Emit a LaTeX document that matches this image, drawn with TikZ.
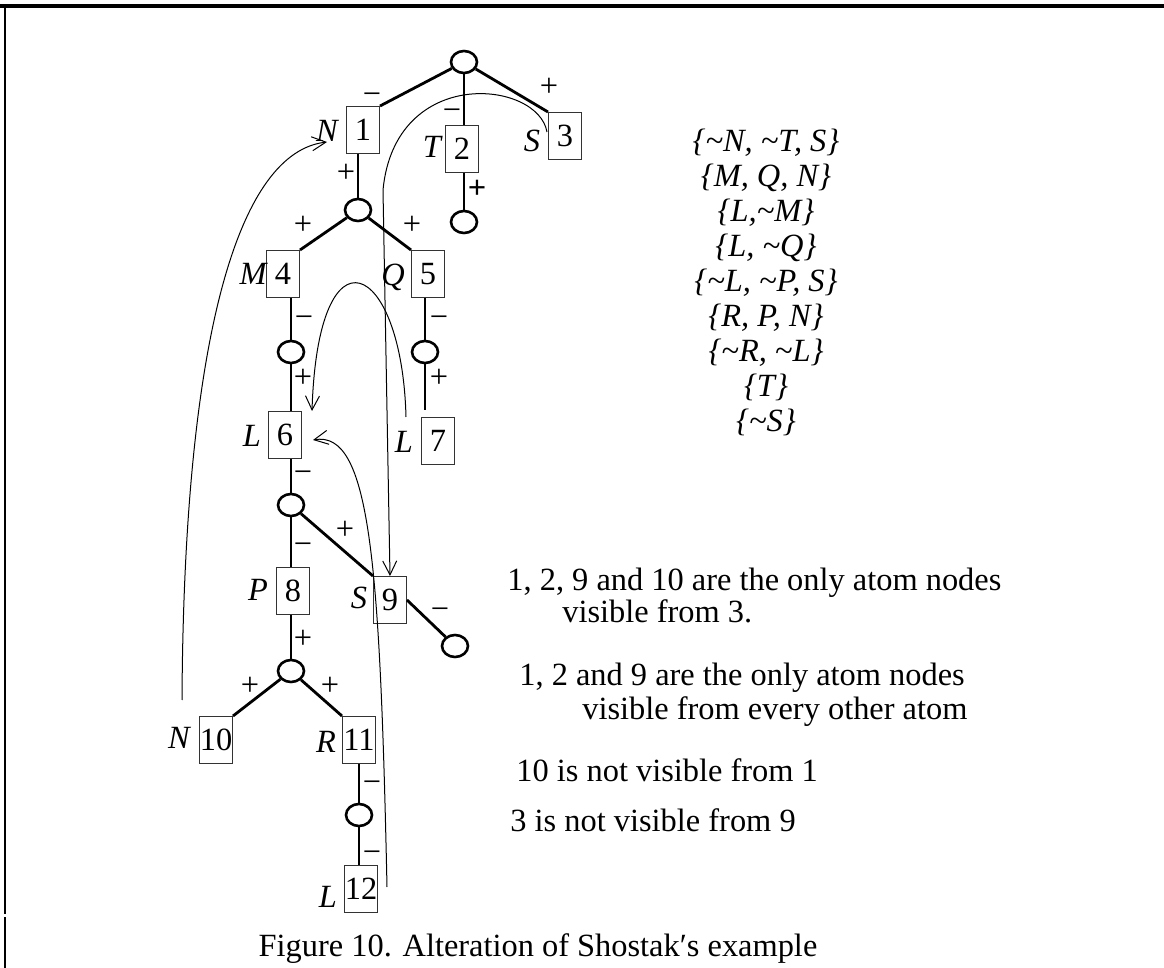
\documentclass[tikz,border=0pt]{standalone}
\usepackage{fontspec}
\setmainfont{Liberation Serif}
\usetikzlibrary{shapes.geometric,arrows.meta}

\tikzset{
  atom/.style={draw=black!80, line width=0.5pt, minimum width=16.5pt,
    minimum height=23.5pt, inner sep=0pt},
  ornode/.style={draw, ellipse, line width=1.3pt, minimum width=13pt,
    minimum height=11pt, inner sep=0pt},
  lit/.style={font=\itshape, inner sep=0pt},
  sgn/.style={inner sep=0pt, anchor=base},
  branch/.style={line width=1.4pt},
  seen/.style={line width=0.5pt, -{Straight Barb[length=7pt,width=7pt]}},
}

\begin{document}
\fontsize{16.2pt}{17.5pt}\selectfont
\begin{tikzpicture}[x=0.5pt,y=-0.5pt]
\useasboundingbox (0,0) rectangle (1164,968);
% frame
\draw[line width=1.6pt] (0,6) -- (1164,6);
\draw[line width=1.2pt] (5,6) -- (5,914) (5,917) -- (5,968);

% or nodes
\node[ornode] (o0) at (464,62) {};
\node[ornode] (o1) at (358,210) {};
\node[ornode] (o2) at (464,222) {};
\node[ornode] (o4) at (291,352) {};
\node[ornode] (o5) at (425,352) {};
\node[ornode] (o6) at (291,505) {};
\node[ornode] (o8) at (291,671) {};
\node[ornode] (o9) at (455,646) {};
\node[ornode] (o11) at (359,815) {};

% atom nodes
\node[atom] (a1) at (363,130) {1};
\node[atom] (a2) at (462,149) {2};
\node[atom] (a3) at (565,136) {3};
\node[atom] (a4) at (283,274) {4};
\node[atom] (a5) at (428,274) {5};
\node[atom] (a6) at (285,435) {6};
\node[atom] (a7) at (438,441) {7};
\node[atom] (a8) at (293,591) {8};
\node[atom] (a9) at (390,600) {9};
\node[atom] (a10) at (216,740) {10};
\node[atom] (a11) at (359,740) {11};
\node[atom] (a12) at (361,889) {12};

% literals
\node[lit] (l1) at (327,131) {N};
\node[lit] (l2) at (432,147) {T};
\node[lit] (l3) at (532,141) {S};
\node[lit] (l4) at (253,274) {M};
\node[lit] (l5) at (393,277) {Q};
\node[lit] (l6) at (252,436) {L};
\node[lit] (l7) at (404,442) {L};
\node[lit] (l8) at (258,590) {P};
\node[lit] (l9) at (359,598) {S};
\node[lit] (l10) at (179,738) {N};
\node[lit] (l11) at (326,742) {R};
\node[lit] (l12) at (328,897) {L};

% branches
\coordinate (t5) at (425,410);
\draw[branch] (o0) -- (a1.north east);
\draw[branch] (o0) -- (o0 |- a2.north);
\draw[branch] (o0) -- (a3.north west);
\draw[branch] (o1 |- a1.south) -- (o1);
\draw[branch] (o2 |- a2.south) -- (o2);
\draw[branch] (o1) -- (a4.north east);
\draw[branch] (o1) -- (a5.north west);
\draw[branch] (o4 |- a4.south) -- (o4);
\draw[branch] (o4) -- (o4 |- a6.north);
\draw[branch] (o5 |- a5.south) -- (o5);
\draw[branch] (o5) -- (t5);
\draw[branch] (o6 |- a6.south) -- (o6);
\draw[branch] (o6) -- (o6 |- a8.north);
\draw[branch] (o6) -- (a9.north west);
\draw[branch] (a9.east) -- (o9);
\draw[branch] (o8 |- a8.south) -- (o8);
\draw[branch] (o8) -- (a10.north east);
\draw[branch] (o8) -- (a11.north west);
\draw[branch] (o11 |- a11.south) -- (o11);
\draw[branch] (o11) -- (o11 |- a12.north);

% signs on the branches
\foreach \x/\y/\s [count=\i] in {372/97/−, 452/113/−, 549/89/+, 346/175/+,
    303/227/+, 412/227/+, 477/191/\textbf{+}, 304/320/−, 303/380/+,
    439/320/−, 439/380/+, 303/475/−, 303/547/−, 345/532/+, 440/612/−,
    303/640/+, 250/688/+, 330/688/+, 372/784/−, 372/855/−}
  \node[sgn] (s\i) at ({\x},{\y+8}) {\s};

% visibility arrows
\coordinate (t10) at (182,700);
\coordinate (t3) at (547,132);
\coordinate (t7) at (406,417);
\coordinate (t12) at (387,887);
\draw[seen] (t10) .. controls (184,330) and (240,152) .. (l1.south);
\draw[seen] (t3) .. controls (538,80) and (395,65) .. (383,190) -- (a9.north);
\draw[seen] (t7) .. controls (402,260) and (318,220) .. ([xshift=5pt]a6.north east);
\draw[seen] (t12) .. controls (380,560) and (370,430) .. ([xshift=5.5pt,yshift=-2.5pt]a6.east);

% clauses
\foreach \c [count=\i] in {{\{\textasciitilde N, \textasciitilde T, S\}},
    {\{M, Q, N\}}, {\{L,\textasciitilde M\}}, {\{L, \textasciitilde Q\}},
    {\{\textasciitilde L, \textasciitilde P, S\}}, {\{R, P, N\}},
    {\{\textasciitilde R, \textasciitilde L\}}, {\{T\}}, {\{\textasciitilde S\}}}
  \node[sgn, font=\itshape] (c\i) at (766,{152+35*(\i-1)}) {\c};

% remarks
\node[sgn, anchor=base west] (r1) at (507,591) {1, 2, 9 and 10 are the only atom nodes};
\node[sgn, anchor=base west] (r2) at (562,623) {visible from 3.};
\node[sgn, anchor=base west] (r3) at (519,686) {1, 2 and 9 are the only atom nodes};
\node[sgn, anchor=base west] (r4) at (582,719) {visible from every other atom};
\node[sgn, anchor=base west] (r5) at (516,782) {10 is not visible from 1};
\node[sgn, anchor=base west] (r6) at (510,831) {3 is not visible from 9};

% caption
\node[sgn] (cap) at (538,956) {Figure 10. Alteration of Shostak′s example};
\end{tikzpicture}
\end{document}
